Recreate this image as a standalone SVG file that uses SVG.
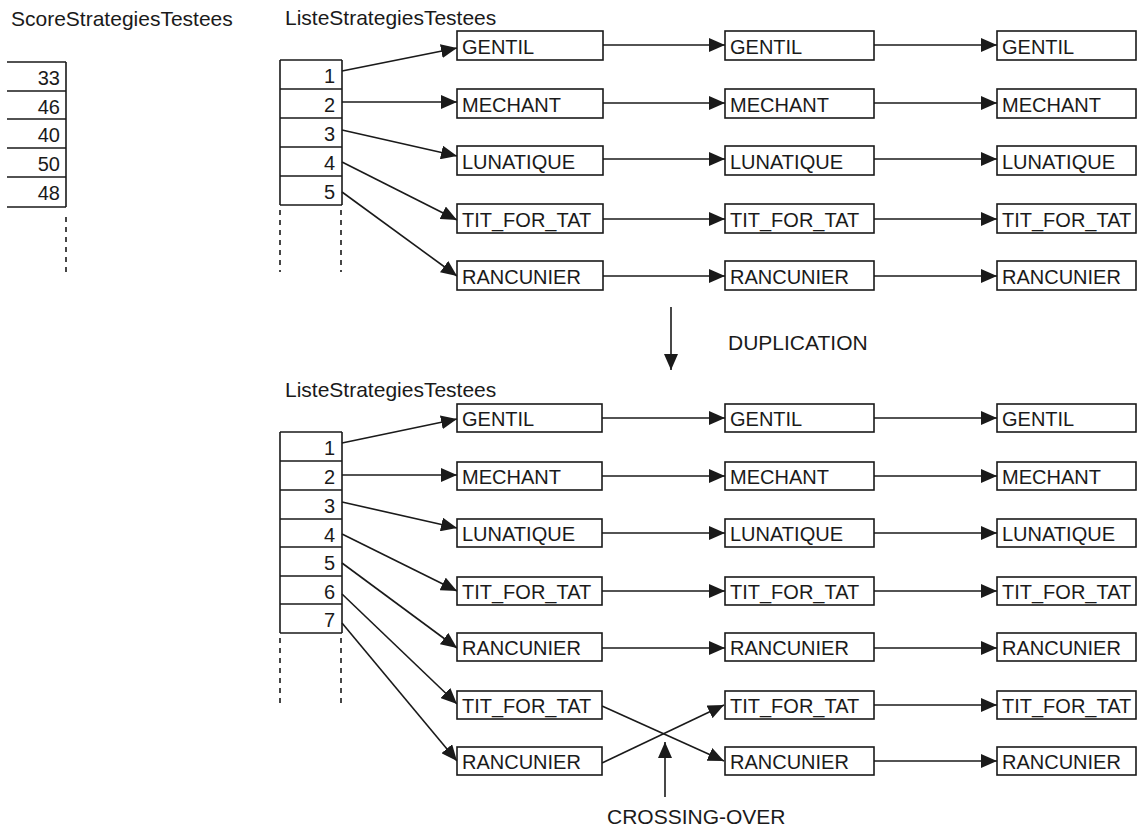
<svg xmlns="http://www.w3.org/2000/svg" width="1138" height="830" viewBox="0 0 1138 830">
<style>
text{font-family:"Liberation Sans",Arial,sans-serif;font-size:20px;fill:#1a1a1a}
.big{font-size:21px}
.num{text-anchor:end}
.box{fill:#fff;stroke:#1a1a1a;stroke-width:1.6}
.ln{stroke:#1a1a1a;stroke-width:1.6;fill:none}
.dash{stroke:#1a1a1a;stroke-width:1.6;stroke-dasharray:5 5;fill:none}
.arr{stroke:#1a1a1a;stroke-width:1.6;fill:none;marker-end:url(#ah)}
</style>
<defs>
<marker id="ah" viewBox="0 0 16 14" markerWidth="16" markerHeight="14" refX="16" refY="7" markerUnits="userSpaceOnUse" orient="auto">
<path d="M0,0 L16,7 L0,14 z" fill="#1a1a1a"/>
</marker>
</defs>
<rect width="1138" height="830" fill="#fff"/>

<g id="titles">
<text class="big" x="11" y="26">ScoreStrategiesTestees</text>
<text class="big" x="285" y="25">ListeStrategiesTestees</text>
<text class="big" x="285" y="397">ListeStrategiesTestees</text>
<text class="big" x="728" y="350">DUPLICATION</text>
<text class="big" x="607" y="824">CROSSING-OVER</text>
</g>

<g id="score-table">
<path class="ln" d="M7,62 H66 M7,91 H66 M7,119 H66 M7,148 H66 M7,177 H66 M7,207 H66 M66,62 V207"/>
<path class="dash" d="M66,217 V273"/>
<text class="num" x="60" y="85">33</text>
<text class="num" x="60" y="114">46</text>
<text class="num" x="60" y="142">40</text>
<text class="num" x="60" y="171">50</text>
<text class="num" x="60" y="200">48</text>
</g>

<g id="liste-table-top">
<path class="ln" d="M280,60 H342 M280,89 H342 M280,118 H342 M280,147 H342 M280,176 H342 M280,205 H342 M280,60 V205 M342,60 V205"/>
<path class="dash" d="M280,210 V272 M341,210 V272"/>
<text class="num" x="335" y="83">1</text>
<text class="num" x="335" y="112">2</text>
<text class="num" x="335" y="141">3</text>
<text class="num" x="335" y="170">4</text>
<text class="num" x="335" y="199">5</text>
</g>

<g id="liste-table-bottom">
<path class="ln" d="M280,432 H342 M280,461 H342 M280,490 H342 M280,519 H342 M280,547 H342 M280,576 H342 M280,604 H342 M280,633 H342 M280,432 V633 M342,432 V633"/>
<path class="dash" d="M280,638 V703 M341,638 V703"/>
<text class="num" x="335" y="455">1</text>
<text class="num" x="335" y="484">2</text>
<text class="num" x="335" y="513">3</text>
<text class="num" x="335" y="542">4</text>
<text class="num" x="335" y="570">5</text>
<text class="num" x="335" y="599">6</text>
<text class="num" x="335" y="627">7</text>
</g>

<g id="connectors">
<path class="arr" d="M342,71 L457,48"/>
<path class="arr" d="M342,102 L457,102"/>
<path class="arr" d="M342,130 L457,156"/>
<path class="arr" d="M342,162 L457,220"/>
<path class="arr" d="M342,192 L457,276"/>
<path class="arr" d="M603,45 H725"/>
<path class="arr" d="M603,103 H725"/>
<path class="arr" d="M603,159 H725"/>
<path class="arr" d="M603,219 H725"/>
<path class="arr" d="M603,276 H725"/>
<path class="arr" d="M874,45 H997"/>
<path class="arr" d="M874,103 H997"/>
<path class="arr" d="M874,159 H997"/>
<path class="arr" d="M874,219 H997"/>
<path class="arr" d="M874,276 H997"/>
<path class="arr" d="M671,307 V370"/>
<path class="arr" d="M342,443 L457,419"/>
<path class="arr" d="M342,475 L457,475"/>
<path class="arr" d="M342,502 L457,528"/>
<path class="arr" d="M342,534 L457,591"/>
<path class="arr" d="M342,563 L457,648"/>
<path class="arr" d="M342,594 L457,704"/>
<path class="arr" d="M342,623 L457,761"/>
<path class="arr" d="M602,418 H725"/>
<path class="arr" d="M602,476 H725"/>
<path class="arr" d="M602,533 H725"/>
<path class="arr" d="M602,591 H725"/>
<path class="arr" d="M602,648 H725"/>
<path class="arr" d="M602,706 L724,761"/>
<path class="arr" d="M602,763 L724,705"/>
<path class="arr" d="M874,418 H997"/>
<path class="arr" d="M874,476 H997"/>
<path class="arr" d="M874,533 H997"/>
<path class="arr" d="M874,591 H997"/>
<path class="arr" d="M874,648 H997"/>
<path class="arr" d="M874,705 H997"/>
<path class="arr" d="M874,761 H997"/>
<path class="arr" d="M665,797 V742"/>
</g>

<g id="t1-gentil"><rect class="box" x="457" y="31" width="146" height="29"/><text x="462" y="54">GENTIL</text></g>
<g id="t1-mechant"><rect class="box" x="457" y="89" width="146" height="29"/><text x="462" y="112">MECHANT</text></g>
<g id="t1-lunatique"><rect class="box" x="457" y="146" width="146" height="29"/><text x="462" y="169">LUNATIQUE</text></g>
<g id="t1-tft"><rect class="box" x="457" y="204" width="146" height="29"/><text x="462" y="227">TIT_FOR_TAT</text></g>
<g id="t1-rancunier"><rect class="box" x="457" y="261" width="146" height="29"/><text x="462" y="284">RANCUNIER</text></g>
<g id="t2-gentil"><rect class="box" x="725" y="31" width="149" height="29"/><text x="730" y="54">GENTIL</text></g>
<g id="t2-mechant"><rect class="box" x="725" y="89" width="149" height="29"/><text x="730" y="112">MECHANT</text></g>
<g id="t2-lunatique"><rect class="box" x="725" y="146" width="149" height="29"/><text x="730" y="169">LUNATIQUE</text></g>
<g id="t2-tft"><rect class="box" x="725" y="204" width="149" height="29"/><text x="730" y="227">TIT_FOR_TAT</text></g>
<g id="t2-rancunier"><rect class="box" x="725" y="261" width="149" height="29"/><text x="730" y="284">RANCUNIER</text></g>
<g id="t3-gentil"><rect class="box" x="997" y="31" width="139" height="29"/><text x="1002" y="54">GENTIL</text></g>
<g id="t3-mechant"><rect class="box" x="997" y="89" width="139" height="29"/><text x="1002" y="112">MECHANT</text></g>
<g id="t3-lunatique"><rect class="box" x="997" y="146" width="139" height="29"/><text x="1002" y="169">LUNATIQUE</text></g>
<g id="t3-tft"><rect class="box" x="997" y="204" width="139" height="29"/><text x="1002" y="227">TIT_FOR_TAT</text></g>
<g id="t3-rancunier"><rect class="box" x="997" y="261" width="139" height="29"/><text x="1002" y="284">RANCUNIER</text></g>

<g id="b1-gentil"><rect class="box" x="457" y="404" width="145" height="28"/><text x="462" y="426">GENTIL</text></g>
<g id="b1-mechant"><rect class="box" x="457" y="462" width="145" height="28"/><text x="462" y="484">MECHANT</text></g>
<g id="b1-lunatique"><rect class="box" x="457" y="519" width="145" height="28"/><text x="462" y="541">LUNATIQUE</text></g>
<g id="b1-tft"><rect class="box" x="457" y="577" width="145" height="28"/><text x="462" y="599">TIT_FOR_TAT</text></g>
<g id="b1-rancunier"><rect class="box" x="457" y="633" width="145" height="28"/><text x="462" y="655">RANCUNIER</text></g>
<g id="b1-tft2"><rect class="box" x="457" y="691" width="145" height="28"/><text x="462" y="713">TIT_FOR_TAT</text></g>
<g id="b1-rancunier2"><rect class="box" x="457" y="747" width="145" height="28"/><text x="462" y="769">RANCUNIER</text></g>
<g id="b2-gentil"><rect class="box" x="725" y="404" width="149" height="28"/><text x="730" y="426">GENTIL</text></g>
<g id="b2-mechant"><rect class="box" x="725" y="462" width="149" height="28"/><text x="730" y="484">MECHANT</text></g>
<g id="b2-lunatique"><rect class="box" x="725" y="519" width="149" height="28"/><text x="730" y="541">LUNATIQUE</text></g>
<g id="b2-tft"><rect class="box" x="725" y="577" width="149" height="28"/><text x="730" y="599">TIT_FOR_TAT</text></g>
<g id="b2-rancunier"><rect class="box" x="725" y="633" width="149" height="28"/><text x="730" y="655">RANCUNIER</text></g>
<g id="b2-tft2"><rect class="box" x="725" y="691" width="149" height="28"/><text x="730" y="713">TIT_FOR_TAT</text></g>
<g id="b2-rancunier2"><rect class="box" x="725" y="747" width="149" height="28"/><text x="730" y="769">RANCUNIER</text></g>
<g id="b3-gentil"><rect class="box" x="997" y="404" width="139" height="28"/><text x="1002" y="426">GENTIL</text></g>
<g id="b3-mechant"><rect class="box" x="997" y="462" width="139" height="28"/><text x="1002" y="484">MECHANT</text></g>
<g id="b3-lunatique"><rect class="box" x="997" y="519" width="139" height="28"/><text x="1002" y="541">LUNATIQUE</text></g>
<g id="b3-tft"><rect class="box" x="997" y="577" width="139" height="28"/><text x="1002" y="599">TIT_FOR_TAT</text></g>
<g id="b3-rancunier"><rect class="box" x="997" y="633" width="139" height="28"/><text x="1002" y="655">RANCUNIER</text></g>
<g id="b3-tft2"><rect class="box" x="997" y="691" width="139" height="28"/><text x="1002" y="713">TIT_FOR_TAT</text></g>
<g id="b3-rancunier2"><rect class="box" x="997" y="747" width="139" height="28"/><text x="1002" y="769">RANCUNIER</text></g>
</svg>
